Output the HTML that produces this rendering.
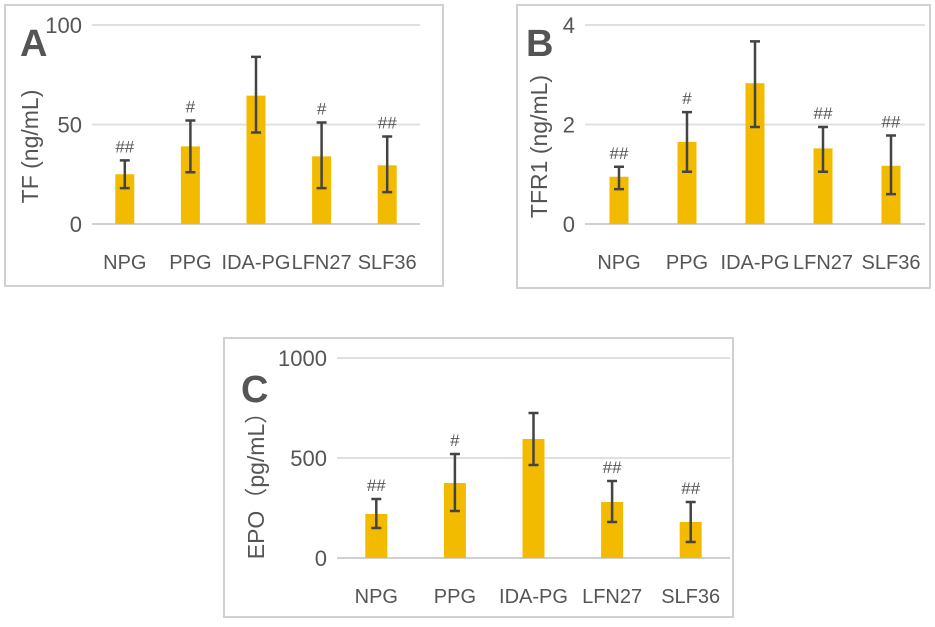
<!DOCTYPE html>
<html><head><meta charset="utf-8"><style>
body{margin:0;background:#fff;}
svg text{font-family:"Liberation Sans",sans-serif;fill:#555;}
</style></head><body>
<svg id="s" width="935" height="622" xmlns="http://www.w3.org/2000/svg"></svg>
<script>
const categories=["NPG","PPG","IDA-PG","LFN27","SLF36"];
const tfValues=[25,39,64.5,34,29.5];
const tfLow=[18,26,46,18,16];
const tfHigh=[32,52,84,51,44];
const tfMarks=["##","#","","#","##"];
const tfTicks=[0,50,100];
const tfrValues=[0.95,1.65,2.83,1.52,1.17];
const tfrLow=[0.7,1.05,1.95,1.05,0.6];
const tfrHigh=[1.15,2.25,3.67,1.95,1.78];
const tfrMarks=["##","#","","##","##"];
const tfrTicks=[0,2,4];
const epoValues=[220,375,595,280,180];
const epoLow=[150,235,465,180,80];
const epoHigh=[295,520,725,385,280];
const epoMarks=["##","#","","##","##"];
const epoTicks=[0,500,1000];
const NS="http://www.w3.org/2000/svg";
const svg=document.getElementById('s');
function mk(tag,attrs,parent){const e=document.createElementNS(NS,tag);for(const k in attrs)e.setAttribute(k,attrs[k]);(parent||svg).appendChild(e);return e;}
function panel(cfg){
 const g=mk('g',{});
 
 
 const fr=mk('rect',{x:cfg.fx,y:cfg.fy,width:cfg.fw,height:cfg.fh,fill:'#fff',stroke:'#d0d0d0','stroke-width':2},g);
 
 
 const max=cfg.ticks[cfg.ticks.length-1];
 const y=v=>cfg.y0-(v/max)*(cfg.y0-cfg.yTop);
 const step=(cfg.x1-cfg.x0)/categories.length;
 const x=i=>cfg.x0+step*(i+0.5);
 cfg.ticks.forEach(t=>{
  const l=mk('line',{x1:cfg.x0,x2:cfg.x1,y1:y(t),y2:y(t),stroke:t===0?'#d0d0d0':'#e0e0e0','stroke-width':2},g);
  
  
  const tx=mk('text',{x:cfg.x0-10,y:y(t)+8,'text-anchor':'end','font-size':22},g);
  tx.textContent=t;
  
  
 });
 categories.forEach((c,i)=>{
  const b=mk('rect',{x:x(i)-cfg.bw/2,y:y(cfg.vals[i]),width:cfg.bw,height:cfg.y0-y(cfg.vals[i]),fill:'#f2bb00'},g);
  
  
  const e=mk('path',{d:`M${x(i)},${y(cfg.lo[i])}V${y(cfg.hi[i])}M${x(i)-5},${y(cfg.lo[i])}h10M${x(i)-5},${y(cfg.hi[i])}h10`,stroke:'#444','stroke-width':2.5,fill:'none'},g);
  
  
  if(cfg.marks[i]){const m=mk('text',{x:x(i),y:y(cfg.hi[i])-8,'text-anchor':'middle','font-size':17,fill:'#444'},g);m.textContent=cfg.marks[i];
   
   }
  const lb=mk('text',{x:x(i),y:cfg.y0+45,'text-anchor':'middle','font-size':20},g);
  lb.textContent=c;
  
  
 });
 const yt=mk('text',{x:0,y:0,'text-anchor':'middle','font-size':23,transform:`translate(${cfg.ytx},${(cfg.y0+cfg.yTop)/2+22}) rotate(-90)`},g);
 yt.textContent=cfg.ytitle;
 
 
 const L=mk('text',{x:cfg.lx,y:cfg.ly,'font-size':38,'font-weight':'bold',fill:'#333'},g);L.textContent=cfg.letter;
 
 
}
panel({name:'panel-a-tf',fx:5,fy:5,fw:438,fh:281,x0:92,x1:420,y0:224,yTop:25,ticks:tfTicks,vals:tfValues,lo:tfLow,hi:tfHigh,marks:tfMarks,bw:19,ytitle:'TF (ng/mL)',ytx:38,letter:'A',lx:20,ly:56});
panel({name:'panel-b-tfr1',fx:517,fy:5,fw:413,fh:283,x0:585,x1:925,y0:224,yTop:25,ticks:tfrTicks,vals:tfrValues,lo:tfrLow,hi:tfrHigh,marks:tfrMarks,bw:19,ytitle:'TFR1 (ng/mL)',ytx:547,letter:'B',lx:526,ly:56});
panel({name:'panel-c-epo',fx:224,fy:338,fw:509,fh:279,x0:337,x1:730,y0:558,yTop:358,ticks:epoTicks,vals:epoValues,lo:epoLow,hi:epoHigh,marks:epoMarks,bw:22,ytitle:'EPO（pg/mL）',ytx:264,letter:'C',lx:241,ly:402});
</script>
</body></html>
